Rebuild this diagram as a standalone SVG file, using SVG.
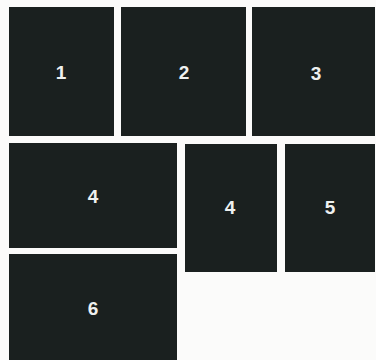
<svg xmlns="http://www.w3.org/2000/svg" width="376" height="360" viewBox="0 0 376 360">
<style>
.panel{fill:#1a201f}
.lbl{font-family:"Liberation Sans",Arial,sans-serif;font-size:19px;font-weight:bold;fill:#eef0ef;text-anchor:middle;dominant-baseline:central}
</style>
<rect width="376" height="360" fill="#fbfbfa"/>
<g id="n1"><rect class="panel" x="9" y="7" width="105" height="129"/><text class="lbl" x="61" y="72">1</text></g>
<g id="n2"><rect class="panel" x="121" y="7" width="125" height="129"/><text class="lbl" x="184" y="72">2</text></g>
<g id="n3"><rect class="panel" x="252" y="7" width="123" height="129"/><text class="lbl" x="316" y="73">3</text></g>
<g id="n4a"><rect class="panel" x="9" y="143" width="168" height="105"/><text class="lbl" x="93" y="196">4</text></g>
<g id="n4b"><rect class="panel" x="185" y="144" width="92" height="128"/><text class="lbl" x="230" y="207">4</text></g>
<g id="n5"><rect class="panel" x="285" y="144" width="90" height="128"/><text class="lbl" x="330" y="207">5</text></g>
<g id="n6"><rect class="panel" x="9" y="254" width="168" height="106"/><text class="lbl" x="93" y="308">6</text></g>
<g id="connectors"></g>
</svg>
